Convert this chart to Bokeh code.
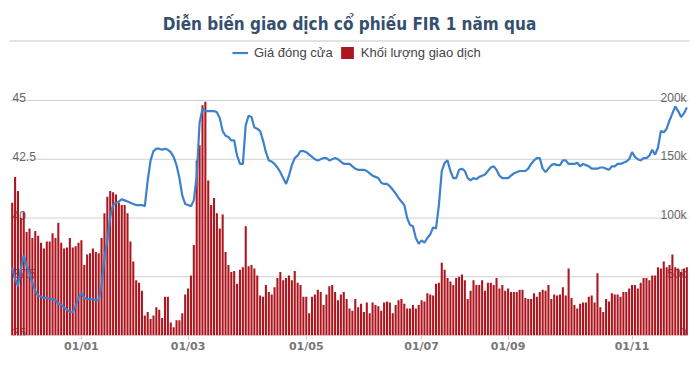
from bokeh.plotting import figure
from bokeh.models import (Range1d, LinearAxis, FixedTicker, Label, Legend,
                          LegendItem, BoxAnnotation)
from bokeh.core.properties import value
from bokeh.embed import file_html
from bokeh.resources import INLINE

# ---------------- data ----------------
title_text = "Diễn biến giao dịch cổ phiếu FIR 1 năm qua"
price_name = "Giá đóng cửa"
volume_name = "Khối lượng giao dịch"

# closing price (thousand VND), one per trading day
price = [
    37.9, 37.4, 37.1, 37.85, 38.4, 38.0, 37.65, 37.25, 36.9, 36.7,
    36.65, 36.6, 36.6, 36.55, 36.55, 36.5, 36.35, 36.3, 36.2, 36.1,
    36.0, 36.0, 36.25, 36.6, 36.8, 36.6, 36.55, 36.55, 36.55, 36.5,
    36.5, 37.15, 38.3, 39.05, 40.05, 40.55, 40.65, 40.7, 40.8,
    40.75, 40.7, 40.65, 40.6, 40.55, 40.55, 40.55, 40.5, 41.6, 42.45,
    42.85, 42.95, 42.95, 42.9, 42.95, 42.9, 42.8, 42.6, 42.25, 41.7,
    40.95, 40.6, 40.55, 40.5, 40.75, 41.8, 44.05, 44.65, 44.55, 44.55,
    44.55, 44.55, 44.5, 44.25, 43.7, 43.5, 43.45, 43.3,
    43.3, 42.65, 42.3, 42.3, 43.95, 44.35, 44.3, 43.85, 43.8, 43.7,
    43.3, 42.8, 42.45, 42.4, 42.3, 42.15, 41.95, 41.7, 41.45, 41.8,
    42.25, 42.55, 42.65, 42.85, 42.85, 42.8, 42.7, 42.6, 42.5, 42.45,
    42.5, 42.55, 42.55, 42.45, 42.5, 42.55, 42.5, 42.4, 42.3,
    42.3, 42.3, 42.2, 42.1, 42.05, 42.05, 42.05, 42.0, 41.9, 41.8,
    41.75, 41.7, 41.5, 41.45, 41.45, 41.35, 41.2, 41.05, 40.85, 40.7,
    40.55, 40.0, 39.7, 39.65, 39.15, 38.9, 39.05, 38.95, 39.15, 39.3,
    39.6, 39.55, 40.55, 42.0, 42.35, 42.45, 42.0, 41.7, 41.7,
    42.05, 42.1, 42.0, 41.7, 41.6, 41.7, 41.65, 41.75, 41.8, 41.85,
    42.0, 42.15, 42.2, 42.05, 41.8, 41.7, 41.7, 41.7, 41.8, 41.9,
    41.95, 42.0, 42.0, 42.0, 42.1, 42.3, 42.45, 42.55, 42.55, 42.1,
    41.95, 42.1, 42.25, 42.3, 42.25, 42.25, 42.45, 42.45, 42.3,
    42.3, 42.3, 42.35, 42.2, 42.3, 42.25, 42.2, 42.1, 42.1, 42.1,
    42.15, 42.15, 42.1, 42.05, 42.2, 42.2, 42.3, 42.3, 42.35, 42.4,
    42.5, 42.8, 42.6, 42.5, 42.45, 42.55, 42.55, 42.65, 42.9, 42.7,
    43.0, 43.7, 43.65, 43.8, 44.15, 44.45, 44.75, 44.55, 44.3, 44.45, 44.7,
]

# traded volume (thousand shares), one per trading day
volume_k = [
    113, 135, 123, 100, 105, 88, 91, 83, 89, 85,
    79, 74, 80, 80, 87, 83, 96, 79, 74, 75,
    83, 75, 76, 79, 81, 60, 69, 70, 74, 71,
    70, 83, 104, 118, 123, 122, 120, 113, 111,
    111, 104, 80, 63, 47, 45, 38, 17, 20, 14,
    17, 24, 22, 15, 33, 33, 11, 7, 13, 13,
    19, 35, 40, 51, 77, 149, 162, 196, 199, 132,
    111, 117, 104, 91, 103, 71, 60, 54,
    55, 44, 56, 58, 93, 59, 60, 57, 51, 34,
    33, 43, 37, 35, 41, 49, 54, 47, 49, 51,
    47, 55, 45, 43, 33, 33, 19, 33, 35, 39,
    37, 26, 35, 42, 43, 37, 30, 35, 37,
    31, 23, 21, 31, 24, 27, 20, 28, 19, 28,
    26, 25, 21, 28, 29, 28, 19, 26, 30, 31,
    27, 23, 23, 26, 23, 26, 30, 29, 36, 35,
    34, 44, 45, 62, 56, 49, 46, 43, 49,
    50, 52, 47, 31, 38, 47, 43, 43, 47, 38,
    45, 45, 43, 49, 40, 43, 38, 40, 37, 37,
    37, 39, 39, 32, 31, 31, 36, 33, 37, 39,
    38, 43, 31, 35, 34, 35, 41, 34, 57,
    32, 26, 23, 27, 28, 28, 33, 34, 28, 53,
    24, 20, 31, 29, 36, 35, 35, 33, 37, 37,
    40, 43, 43, 40, 45, 49, 49, 47, 51, 51,
    58, 57, 63, 58, 60, 69, 58, 57, 54, 57, 58,
]

x_tick_idx = [24, 61, 102, 142, 172, 215]
x_tick_labels = ["01/01", "01/03", "01/05", "01/07", "01/09", "01/11"]
price_ticks = [35, 37.5, 40, 42.5, 45]
price_tick_labels = ["35", "37.5", "40", "42.5", "45"]
volume_ticks = [0, 50, 100, 150, 200]
volume_tick_labels = ["0", "50k", "100k", "150k", "200k"]

n = min(len(price), len(volume_k))
price = price[:n]
volume_k = volume_k[:n]
day = list(range(n))

# ---------------- figure ----------------
W, H = 698, 365
FRAME_H = 335
PX_PER_UNIT = 23.5          # pixels per 1.0 price unit
price_top = 35 + FRAME_H / PX_PER_UNIT
vol_top = 200 * FRAME_H / 235.0

p = figure(width=W, height=H, output_backend="svg", toolbar_location=None,
           x_range=Range1d(-4.06, n + 3.05), y_range=Range1d(35, price_top),
           x_axis_type=None, y_axis_type=None,
           min_border_left=0, min_border_right=0, min_border_top=0,
           min_border_bottom=H - FRAME_H)
p.extra_y_ranges = {"vol": Range1d(0, vol_top)}
p.outline_line_color = None
p.background_fill_color = "white"
p.border_fill_color = "white"

LABEL_FONT = "Liberation Sans"

# grid lines
m = len(price_ticks)
p.segment(x0=[-0.6] * m, y0=price_ticks, x1=[n - 0.4] * m, y1=price_ticks,
          line_color="#d0d0d0", line_width=1)

# axis value labels (inside plot, above grid lines)
p.text(x=[-0.6] * m, y=price_ticks, text=price_tick_labels,
       x_offset=2, y_offset=-3, text_align="left", text_baseline="alphabetic",
       text_font=value(LABEL_FONT), text_font_size="12px", text_color="#666666")
p.text(x=[n - 0.4] * len(volume_ticks), y=volume_ticks, text=volume_tick_labels,
       y_range_name="vol",
       x_offset=-2, y_offset=-3, text_align="right", text_baseline="alphabetic",
       text_font=value(LABEL_FONT), text_font_size="12px", text_color="#666666")

# volume bars
bars = p.vbar(x=day, top=volume_k, bottom=0, width=0.72, y_range_name="vol",
              fill_color="#ae161f", line_color=None)
# price line
line = p.line(day, price, line_color="#3d80cc", line_width=2.2)

# x axis
xaxis = LinearAxis(ticker=FixedTicker(ticks=x_tick_idx),
                   major_label_overrides={t: l for t, l in zip(x_tick_idx, x_tick_labels)})
xaxis.axis_line_color = None
xaxis.minor_tick_line_color = None
xaxis.major_tick_in = 0
xaxis.major_tick_out = 4
xaxis.major_tick_line_color = "#c5d3e3"
xaxis.major_label_standoff = 0
xaxis.major_label_text_font = "DejaVu Sans"
xaxis.major_label_text_font_size = "11px"
xaxis.major_label_text_font_style = "bold"
xaxis.major_label_text_color = "#777777"
p.add_layout(xaxis, "below")

# title
p.add_layout(Label(x=349, y=FRAME_H - 23, x_units="screen", y_units="screen",
                   text=title_text, text_align="center", text_baseline="alphabetic",
                   text_font="'Liberation Sans Narrow', 'DejaVu Sans Condensed', Roboto",
                   text_font_size="17px", text_font_style="bold",
                   text_color="#34506e"))

# separator line under the title
p.add_layout(BoxAnnotation(left=9, right=689, bottom=FRAME_H - 41, top=FRAME_H - 40,
                           left_units="screen", right_units="screen",
                           top_units="screen", bottom_units="screen",
                           fill_color="#c8c8c8", fill_alpha=1, line_color=None))

# legend
legend = Legend(items=[LegendItem(label=price_name, renderers=[line]),
                       LegendItem(label=volume_name, renderers=[bars])],
                orientation="horizontal", location=(232, FRAME_H - 60),
                glyph_width=16, glyph_height=15, label_height=15,
                label_standoff=6, spacing=6, padding=0, margin=0,
                border_line_color=None, background_fill_alpha=0,
                label_text_font=LABEL_FONT, label_text_font_size="13px",
                label_text_color="#444444")
p.add_layout(legend, "center")

open("out.html", "w").write(file_html(p, INLINE))
